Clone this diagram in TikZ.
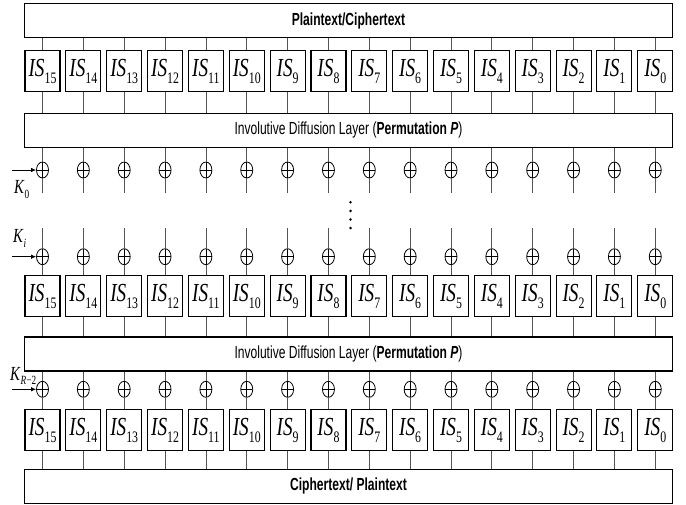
\documentclass[tikz,border=0pt]{standalone}
\usepackage{fontspec}
\setmainfont{Liberation Serif}
\newfontfamily\isfont{Liberation Serif}[FakeStretch=0.74]
\newfontfamily\labfont{Liberation Sans}[FakeStretch=0.69]
\usepackage{tikz}
\usetikzlibrary{arrows.meta,shapes.geometric,calc}
\definecolor{wireGray}{HTML}{555555}
\tikzset{
  sbox/.style={
    rectangle, draw=black, line width=1.1pt,
    minimum width=35pt, minimum height=41pt,
    inner sep=0pt, font=\isfont\fontsize{26}{26}\selectfont
  },
  layer/.style={
    rectangle, draw=black, line width=1.1pt,
    minimum width=648pt, minimum height=34pt,
    inner sep=0pt, font=\labfont\fontsize{17.5}{20}\selectfont
  },
  xor/.style={
    ellipse, draw=black, line width=0.8pt,
    minimum width=12pt, minimum height=16pt, inner sep=0pt,
    path picture={
      \draw[line width=0.8pt] (path picture bounding box.west) -- (path picture bounding box.east);
      \draw[line width=0.8pt] (path picture bounding box.north) -- (path picture bounding box.south);
    }
  },
  wire/.style={draw=wireGray, line width=0.8pt},
  keyin/.style={-{Latex[length=5pt,width=4.5pt]}, line width=0.8pt},
  keylab/.style={font=\isfont\fontsize{20}{20}\selectfont, inner sep=0pt, anchor=base west}
}
\newcommand{\isub}[1]{\textit{IS}\raisebox{-7pt}{\fontsize{16}{16}\selectfont #1}}
\newcommand{\ksub}[1]{\textit{K}\raisebox{-5pt}{\fontsize{12.5}{12.5}\selectfont #1}}

\begin{document}
\begin{tikzpicture}[x=1pt,y=-1pt]
  \useasboundingbox (0,0) rectangle (686,505);

  % plaintext, layers and ciphertext
  \node[layer] (pt) at (348.5,20.5) {\bfseries Plaintext/Ciphertext};
  \node[layer] (dl1) at (348.5,130.2) {Involutive Diffusion Layer ({\bfseries Permutation \itshape P})};
  \node[layer] (dl2) at (348.5,354) {Involutive Diffusion Layer ({\bfseries Permutation \itshape P})};
  \node[layer] (ct) at (348.5,486.3) {\bfseries Ciphertext/ Plaintext};

  % 16 columns: S-boxes and key additions
  \foreach \j in {0,...,15}
  {
    \pgfmathtruncatemacro\n{15-\j}
    \pgfmathsetmacro\cx{42.5+40.85*\j}
    \node[sbox] (a\j) at (\cx,71.2) {\isub{\n}};
    \node[sbox] (b\j) at (\cx,296) {\isub{\n}};
    \node[sbox] (c\j) at (\cx,430.3) {\isub{\n}};
    \node[xor] (x\j) at (\cx,170) {};
    \node[xor] (y\j) at (\cx,256.7) {};
    \node[xor] (z\j) at (\cx,389.3) {};
    \coordinate (e\j) at (\cx,192.7);
    \coordinate (s\j) at (\cx,228);

    \draw[wire] (pt.south -| a\j) -- (a\j.north);
    \draw[wire] (a\j.south) -- (dl1.north -| a\j);
    \draw[wire] (dl1.south -| x\j) -- (x\j.north);
    \draw[wire] (x\j.south) -- (e\j);
    \draw[wire] (s\j) -- (y\j.north);
    \draw[wire] (y\j.south) -- (b\j.north);
    \draw[wire] (b\j.south) -- (dl2.north -| b\j);
    \draw[wire] (dl2.south -| z\j) -- (z\j.north);
    \draw[wire] (z\j.south) -- (c\j.north);
    \draw[wire] (c\j.south) -- (ct.north -| c\j);
  }

  % round keys
  \coordinate (k0) at (12,170);
  \coordinate (ki) at (12,256.7);
  \coordinate (kr) at (12,389.3);
  \draw[keyin] (k0) -- (x0.west);
  \draw[keyin] (ki) -- (y0.west);
  \draw[keyin] (kr) -- (z0.west);
  \node[keylab] (lk0) at (14,194) {\ksub{0}};
  \node[keylab] (lki) at (13,243) {\ksub{\textit{i}}};
  \node[keylab] (lkr) at (10,380) {\ksub{\textit{R}−2}};

  % rounds omitted
  \foreach \k in {0,...,3}
    \fill (350.5,{202.3+8.6*\k}) circle (1.4);
\end{tikzpicture}
\end{document}
